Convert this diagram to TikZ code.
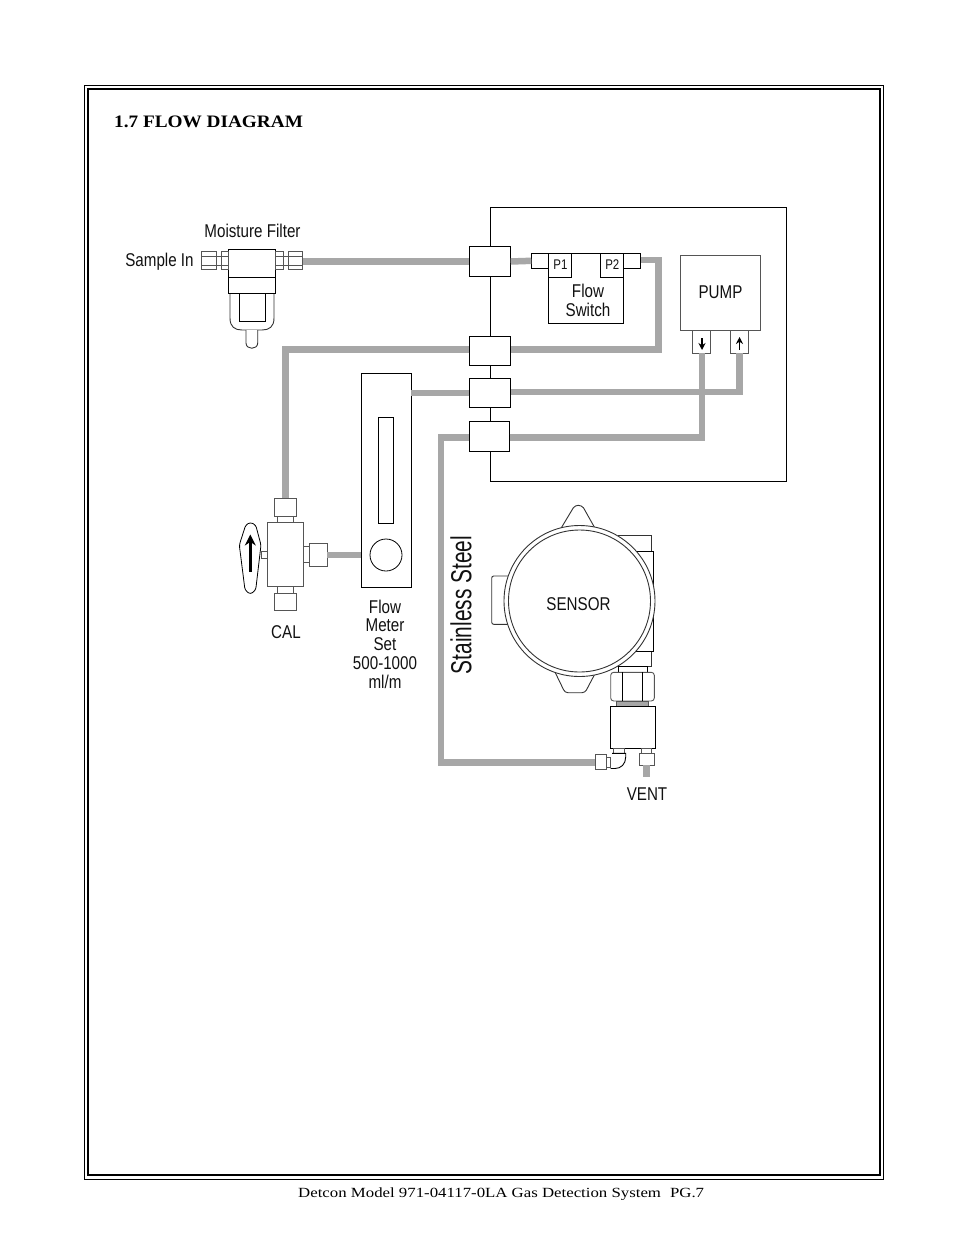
\documentclass[tikz,border=0pt]{standalone}
\usepackage{fontspec}
\setmainfont{Liberation Sans}
\newfontfamily\cond[FakeStretch=0.82]{Liberation Sans}
\newfontfamily\condss[FakeStretch=0.72]{Liberation Sans}
\newfontfamily\titlef[FakeStretch=1.1]{Liberation Serif}
\newfontfamily\footf[FakeStretch=1.2]{Liberation Serif}
\usetikzlibrary{arrows.meta}
\definecolor{pipegray}{HTML}{A7A7A7}
\definecolor{fitgray}{HTML}{555555}
\definecolor{partgray}{HTML}{333333}
\definecolor{labelc}{HTML}{111111}
\tikzset{
  pipe/.style={draw=pipegray,line width=6.5pt},
  boxb/.style={draw=black,line width=1pt,fill=white,inner sep=0pt,outer sep=0pt,anchor=north west},
  boxg/.style={draw=fitgray,line width=0.9pt,fill=white,inner sep=0pt,outer sep=0pt,anchor=north west},
  part/.style={draw=partgray,line width=0.9pt,fill=white},
  lbl/.style={text=labelc,inner sep=0pt,align=center},
  biglbl/.style={lbl,font=\cond\fontsize{18.5}{19}\selectfont},
  smalllbl/.style={lbl,font=\cond\fontsize{14}{15}\selectfont},
  flow arrow/.style={draw=black,line width=1.4pt,-{Stealth[length=7pt,width=7pt]}},
}
% name, x1, y1, x2, y2, style
\newcommand{\bx}[6]{\node[#6,minimum width={(#4-#2)*1pt},minimum height={(#5-#3)*1pt}] (#1) at (#2,#3) {};}
\begin{document}
\begin{tikzpicture}[x=1pt,y=-1pt]
\useasboundingbox (0,0) rectangle (954,1235);
% page frame
\node[draw=black,line width=0.8pt,inner sep=0,outer sep=0,anchor=north west,minimum width=799pt,minimum height=1094pt] (outerframe) at (84.5,85.5) {};
\node[draw=black,line width=2.2pt,inner sep=0,outer sep=0,anchor=north west,minimum width=792pt,minimum height=1086pt] (innerframe) at (88.3,89.3) {};
\node[anchor=west,inner sep=0,font=\titlef\bfseries\fontsize{17.5}{20}\selectfont,text=black] (title) at (114,121.5) {1.7 FLOW DIAGRAM};
\node[anchor=west,inner sep=0,font=\footf\fontsize{14}{16}\selectfont,text=black] (footer) at (298,1194) {Detcon Model 971-04117-0LA Gas Detection System\hspace{9pt}PG.7};

% enclosure
\bx{encl}{490.3}{207.3}{786}{481.5}{boxb}

% named pipe ends
\coordinate (cPipeA) at (658.7,260);
\coordinate (cPipeB) at (658.7,349.7);
\coordinate (cValveIn) at (285.3,349.7);
\coordinate (cSSa) at (441,437.3);
\coordinate (cSSb) at (441,762.3);
\coordinate (cPumpOut) at (702,437.3);
\coordinate (cPumpIn) at (739.3,392);

% bulkhead boxes
\bx{bulkA}{469.3}{246.3}{510.7}{276.7}{boxb}
\bx{bulkB}{469.3}{336.3}{510.7}{365.3}{boxb}
\bx{bulkC}{469.3}{378.3}{510.7}{407.3}{boxb}
\bx{bulkD}{469.3}{421.3}{509.7}{451.3}{boxb}

% flow switch
\bx{swL}{531.3}{253.3}{548.7}{268.3}{boxb}
\bx{swR}{623.7}{253.3}{640.7}{268.3}{boxb}
\bx{swBody}{548.7}{253.3}{623.7}{323.3}{boxb}
\bx{swP1}{548.7}{253.3}{571.7}{277.3}{boxb}
\bx{swP2}{600.3}{253.3}{623.7}{277.3}{boxb}
\draw[line width=1.4pt] (swBody.north west) -- (swBody.south west);
\draw[line width=1.4pt] (swP1.north east) -- (swP1.south east);
\node[smalllbl] (lp1) at (560.5,265) {P1};
\node[smalllbl] (lp2) at (612.3,265) {P2};
\node[biglbl] (lsw) at (588,300.5) {Flow\\Switch};

% pump
\bx{pump}{680}{255}{760.3}{330}{boxg}
\bx{pumpL}{692.3}{330}{710.7}{353.3}{boxg}
\bx{pumpR}{730.3}{330}{748.7}{353.3}{boxg}
\node[biglbl] (lpump) at (720.5,292.5) {PUMP};
\draw[flow arrow] (702,338) -- (702,350);
\draw[flow arrow] (739.5,349.5) -- (739.5,337);

% moisture filter
\draw[part] (230,293) -- (230,318) .. controls (230,327) and (235,330) .. (242,330) -- (262,330) .. controls (269,330) and (274,327) .. (274,318) -- (274,293);
\bx{filtCup}{239.3}{293.3}{265.3}{321.3}{boxb}
\draw[part] (246,330) -- (246,343) .. controls (246,350) and (257.7,350) .. (257.7,343) -- (257.7,330);
\bx{filtTop}{228.3}{249.3}{275.7}{277.3}{boxb}
\bx{filtLow}{228.3}{277.3}{275.7}{293.3}{boxb}
\bx{fLa}{201.7}{251.7}{216}{269.3}{boxg}
\bx{fLn}{216}{256}{221}{265}{boxg}
\bx{fLb}{221}{251.7}{228.3}{269.3}{boxg}
\bx{fRb}{275.7}{251.7}{283}{269.3}{boxg}
\bx{fRn}{283}{256}{288.3}{265}{boxg}
\bx{fRa}{288.3}{251.7}{302.7}{269.3}{boxg}
\draw[draw=fitgray,line width=0.7pt] (fLa.west |- fLn.north) -- (fLa.east |- fLn.north) (fLa.west |- fLn.south) -- (fLa.east |- fLn.south)
  (fLb.west |- fLn.north) -- (fLb.east |- fLn.north) (fLb.west |- fLn.south) -- (fLb.east |- fLn.south)
  (fRa.west |- fRn.north) -- (fRa.east |- fRn.north) (fRa.west |- fRn.south) -- (fRa.east |- fRn.south)
  (fRb.west |- fRn.north) -- (fRb.east |- fRn.north) (fRb.west |- fRn.south) -- (fRb.east |- fRn.south);
\node[biglbl] (lmf) at (252.5,230.5) {Moisture Filter};
\node[biglbl] (lsi) at (159.5,262) {Sample In};

% flow meter
\bx{meter}{361.3}{373.3}{411.3}{587.3}{boxb}
\bx{meterWin}{378.3}{417}{393.3}{523.3}{boxb}
\node[draw=black,line width=0.8pt,circle,minimum size=32pt,inner sep=0,outer sep=0] (meterBall) at (386,555) {};
\node[lbl,font=\cond\fontsize{18.5}{18.7}\selectfont] (lmeter) at (385,644) {Flow\\Meter\\Set\\500-1000\\ml/m};

% CAL valve
\bx{vTopNeck}{277.7}{516}{293.3}{522.7}{boxg}
\bx{vTop}{274}{498.3}{296.7}{516}{boxg}
\bx{vBotNeck}{277.7}{586.7}{293.3}{593.3}{boxg}
\bx{vBot}{274}{593.3}{296.7}{610}{boxg}
\bx{vRNeck}{303.3}{546}{309.7}{562.3}{boxg}
\bx{vRight}{309.7}{543.3}{327.3}{566}{boxg}
\bx{vStem}{261}{551.7}{267.3}{558.3}{boxg}
\bx{vBody}{267.3}{522.7}{303.3}{586.7}{boxg}
\draw[draw=black,line width=0.8pt,fill=white,rounded corners=2.5pt] (250.3,522.3) -- (255.7,525) -- (261,545) -- (255.7,590) -- (250.3,594.3) -- (245,590) -- (239.3,545) -- (245.7,525) -- cycle;
\draw[draw=black,line width=2.8pt,-{Stealth[length=11pt,width=11pt]}] (250.3,571.7) -- (250.3,534.5);
\node[biglbl] (lcal) at (286,632) {CAL};

% sensor
\draw[part] (618.3,535.7) -- (651.7,535.7) -- (651.7,666.7) -- (618.3,666.7) -- cycle;
\node[boxb,minimum width=16.3pt,minimum height=100pt] (senBlock) at (636.7,551) {};
\draw[part,rounded corners=2pt] (510,576) -- (491.7,576) -- (491.7,624.3) -- (510,624.3);
\draw[part] (560,530) -- (573.3,507.8) .. controls (576,504.5) and (580.5,504.5) .. (583.5,507.8) -- (596,530);
\draw[part,rounded corners=3pt] (553,668) -- (565,692.7) -- (585,692.7) -- (598,668);
\node[draw=partgray,line width=0.9pt,fill=white,circle,minimum size=151pt,inner sep=0,outer sep=0] (senOuter) at (579.5,601) {};
\node[draw=partgray,line width=0.9pt,fill=white,circle,minimum size=142pt,inner sep=0,outer sep=0] (senInner) at (579.5,601) {};
\node[biglbl] (lsen) at (578.5,604) {SENSOR};

% sensor fittings
\bx{senNeck}{618.3}{666.7}{647.5}{672.3}{boxb}
\draw[draw=fitgray,line width=0.9pt,fill=white,rounded corners=3pt] (610.7,672.3) rectangle (654.3,701);
\draw[line width=0.8pt] (622.5,672.3) -- (622.5,701) (642,672.3) -- (642,701);
\node[boxg,fill=black!35,minimum width=31.6pt,minimum height=5pt] (senWash) at (616.7,701) {};
\bx{senBody}{610.7}{706}{655.7}{748.3}{boxb}
\bx{ventNeck}{641.7}{748.3}{651.7}{753.3}{boxg}
\bx{ventFit}{639.3}{753.3}{654}{765}{boxg}
\coordinate (cVent) at (646.7,777);
\bx{elbNeck}{613.3}{748.3}{624}{753.3}{boxg}
\draw[draw=black,line width=0.9pt,fill=white] (612,753.3) -- (625.7,753.3) -- (625.7,757) .. controls (625.7,764) and (621,768.5) .. (615,768.5) -- (610.7,768.5);
\bx{elbLink}{606}{757}{610.7}{767}{boxg}
\bx{elbFit}{595}{754.3}{606}{769}{boxg}

\node[lbl,font=\condss\fontsize{29}{30}\selectfont,rotate=90] (lss) at (461,605) {Stainless Steel};

% pipes (drawn between named nodes)
\draw[pipe] (fRa.east |- bulkA) -- (bulkA.west);
\draw[pipe] (bulkA.east) -- (swL.west);
\draw[pipe,line join=miter] (swR.east |- cPipeA) -- (cPipeA) -- (cPipeB) -- (bulkB.east |- cPipeB);
\draw[pipe,line join=miter] (bulkB.west |- cValveIn) -- (cValveIn) -- (vTop.north -| cValveIn);
\draw[pipe,line join=miter] (bulkC.east |- cPumpIn) -- (cPumpIn) -- (pumpR.south -| cPumpIn);
\draw[pipe,line join=miter] (bulkD.east |- cPumpOut) -- (cPumpOut) -- (pumpL.south -| cPumpOut);
\draw[pipe] (bulkC.west) -- (meter.east |- bulkC);
\draw[pipe] (vRight.east |- meterBall) -- (meter.west |- meterBall);
\draw[pipe,line join=miter] (bulkD.west |- cSSa) -- (cSSa) -- (cSSb) -- (elbFit.west |- cSSb);
\draw[pipe] (ventFit.south -| cVent) -- (cVent);
\node[biglbl] (lvent) at (647,794) {VENT};
\end{tikzpicture}
\end{document}
